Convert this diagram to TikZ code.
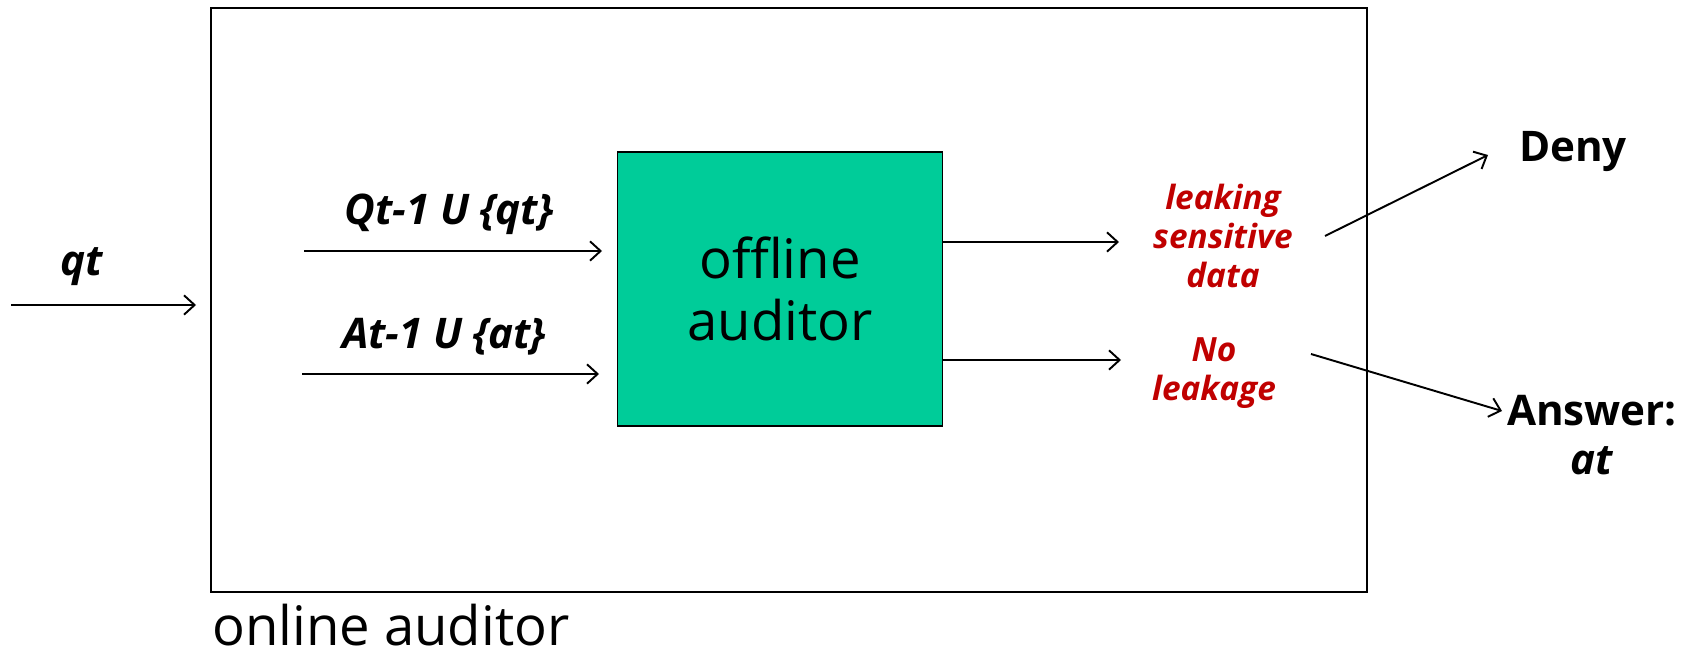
\documentclass[tikz,border=0pt]{standalone}
\usepackage{fontspec}
\setmainfont{Open Sans}
\usepackage{tikz}
\usetikzlibrary{calc,arrows.meta}
\definecolor{auditgreen}{RGB}{0,204,153}
\definecolor{leakred}{RGB}{192,0,0}
\begin{document}
\begin{tikzpicture}[x=0.02cm,y=-0.02cm,
  lbl/.style={font=\fontsize{24}{28}\selectfont\bfseries\itshape},
  res/.style={font=\fontsize{19}{22}\selectfont\bfseries\itshape,color=leakred,align=center},
  decision/.style={font=\fontsize{24}{28}\selectfont\bfseries,align=center},
  arr/.style={-{Straight Barb[length=6pt,width=11pt]},line width=1.1pt}]
                      \useasboundingbox(0,0)rectangle(1707,655);
                      \node[draw,line width=0.8pt,minimum width=1156*0.02cm,minimum height=584*0.02cm](online)at(789,300){};
                      \node[anchor=base west,font=\fontsize{31}{36}\selectfont](onlinelbl)at(206,645){online auditor};
                      \node[draw,line width=0.8pt,fill=auditgreen,minimum width=325*0.02cm,minimum height=274*0.02cm,
                            align=center,font=\fontsize{31}{35}\selectfont](offline)at(780,289){offline\\auditor};
                      % inputs
                      \coordinate(qin)at(11,305);
                      \coordinate(qend)at(196,305);
                      \node[lbl](qt)at(82,267){qt};
                      \draw[arr](qin)--(qend);
                      \coordinate(qa)at(304,251);
                      \coordinate(qb)at(602,251);
                      \node[lbl](qset)at(449,214){Qt-1 U \{qt\}};
                      \draw[arr](qa)--(qb);
                      \coordinate(aa)at(302,374);
                      \coordinate(ab)at(599,374);
                      \node[lbl](aset)at(444,337){At-1 U \{at\}};
                      \draw[arr](aa)--(ab);
                      % outcomes
                      \node[res](leak)at(1223,236){leaking\\sensitive\\data};
                      \node[res](noleak)at(1214,373){No\\leakage};
                      \coordinate(l1)at(1119,242);
                      \coordinate(m1)at(1121,360);
                      \draw[arr](offline.east|-l1)--(l1);
                      \draw[arr](offline.east|-m1)--(m1);
                      \node[decision](deny)at(1573,152){Deny};
                      \node[decision](answer)at(1592,435){Answer:\\\textit{at}};
                      \coordinate(d0)at(1325,236);
                      \coordinate(d1)at(1488,155);
                      \coordinate(n0)at(1311,354);
                      \coordinate(n1)at(1502,411);
                      \draw[arr](d0)--(d1);
                      \draw[arr](n0)--(n1);
                  \end{tikzpicture}
\end{document}
